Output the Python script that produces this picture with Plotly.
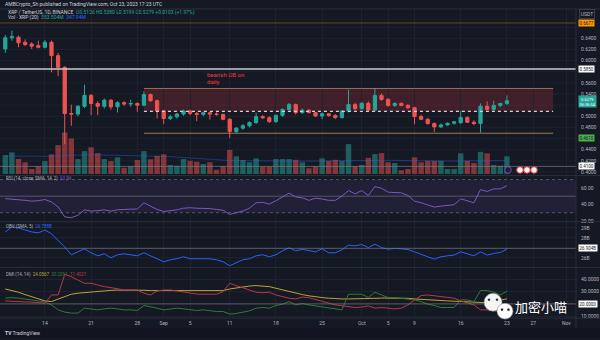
import plotly.graph_objects as go
import pandas as pd

# ---------------- data ----------------
dates = pd.date_range("2023-08-08", "2023-10-23", freq="D")

open_ = [0.621,0.641,0.642,0.633,0.630,0.627,0.624,0.633,0.609,0.588,
         0.505,0.504,0.518,0.5375,0.523,0.518,0.529,0.517,0.5245,0.522,
         0.523,0.520,0.539,0.528,0.5095,0.496,0.499,0.504,0.5095,0.505,
         0.5035,0.5065,0.504,0.5035,0.4946,0.4727,0.4786,0.483,0.4888,0.4994,
         0.4975,0.4905,0.5018,0.5125,0.521,0.5066,0.511,0.5066,0.5005,0.5045,
         0.5015,0.4977,0.5095,0.521,0.5137,0.5232,0.5113,0.5375,0.5304,0.5196,
         0.5232,0.5196,0.5155,0.4995,0.4946,0.487,0.481,0.4845,0.4875,0.4885,
         0.4977,0.4893,0.487,0.518,0.5125,0.5196,0.5232]
high = [0.646,0.654,0.645,0.638,0.633,0.636,0.637,0.636,0.614,0.590,
        0.521,0.520,0.557,0.540,0.527,0.532,0.531,0.527,0.527,0.530,
        0.525,0.545,0.541,0.530,0.512,0.503,0.506,0.512,0.512,0.508,
        0.508,0.508,0.507,0.504,0.497,0.481,0.486,0.491,0.5066,0.502,
        0.500,0.503,0.514,0.524,0.523,0.514,0.513,0.508,0.507,0.506,
        0.504,0.511,0.548,0.524,0.526,0.527,0.550,0.541,0.533,0.525,
        0.525,0.522,0.517,0.503,0.497,0.489,0.487,0.489,0.491,0.510,
        0.500,0.493,0.5232,0.5268,0.528,0.524,0.5375]
low = [0.614,0.636,0.624,0.626,0.621,0.622,0.622,0.579,0.572,0.450,
       0.483,0.500,0.515,0.502,0.502,0.514,0.512,0.507,0.519,0.517,
       0.508,0.518,0.526,0.496,0.486,0.493,0.496,0.501,0.502,0.4916,
       0.500,0.494,0.501,0.493,0.461,0.470,0.476,0.480,0.486,0.495,
       0.488,0.488,0.499,0.510,0.503,0.504,0.505,0.499,0.495,0.499,
       0.495,0.496,0.507,0.511,0.512,0.509,0.509,0.528,0.517,0.517,
       0.518,0.513,0.4857,0.493,0.485,0.472,0.479,0.483,0.485,0.486,
       0.488,0.484,0.4705,0.511,0.510,0.516,0.520]
close = [0.641,0.643,0.632,0.629,0.626,0.624,0.633,0.609,0.588,0.505,
         0.504,0.518,0.5375,0.523,0.518,0.529,0.517,0.5245,0.522,0.523,
         0.520,0.539,0.528,0.5095,0.496,0.499,0.504,0.5095,0.505,0.5035,
         0.5065,0.504,0.5035,0.4946,0.4727,0.4786,0.483,0.4888,0.4994,0.4975,
         0.4905,0.5018,0.5125,0.521,0.5066,0.511,0.5066,0.5005,0.5045,0.5015,
         0.4977,0.5095,0.521,0.5137,0.5232,0.5113,0.5375,0.5304,0.5196,0.5232,
         0.5196,0.5155,0.4995,0.4946,0.487,0.481,0.4845,0.4875,0.490,0.4977,
         0.4893,0.487,0.518,0.5125,0.5196,0.5232,0.5279]

volume_m = [760,870,600,470,200,310,520,790,1160,1670,
            1430,600,920,1070,840,600,520,670,250,310,
            560,920,590,730,790,360,330,600,530,490,
            400,470,170,310,970,710,560,470,630,290,
            290,600,600,600,570,470,230,310,630,530,
            570,530,1200,310,360,650,800,840,470,440,
            150,200,670,470,530,530,530,200,200,830,
            530,440,890,830,360,330,710]
vol_sma_m = [720,720,715,710,705,700,700,700,710,740,
             760,760,770,770,770,765,760,760,750,740,
             730,730,730,725,720,700,680,660,640,620,
             600,580,560,545,540,540,535,530,530,525,
             520,520,520,520,520,520,515,515,520,525,
             530,535,540,540,540,545,550,555,555,550,
             540,535,535,535,535,535,530,525,520,525,
             525,525,530,535,535,535,540]

rsi = [47,46.5,46,45,44,44.5,46,43,37,25,
       24,27,33.5,32,32.5,33.5,32,33.5,34,34.5,
       34.5,42,38,34,31.5,32.5,33.5,35.5,36,35.5,
       35.5,35,34,33,28,30,32,35.5,42,42.5,
       40.5,44.5,48.8,53.6,49,48,45,47.6,46.5,45,
       45,50,56.8,52.8,56.8,50.8,61.6,59.6,54.8,54.8,
       54,50.8,44,42,39.6,36.8,38,38.8,39.6,46.8,
       44.8,42,58,55.6,58.8,58.8,62.8]

obv_b = [28.6,29.1,29.0,28.8,28.6,28.5,28.8,28.4,27.8,27.1,
         26.3,26.6,26.9,26.5,26.2,26.4,26.0,26.3,26.4,26.3,
         26.2,26.5,26.2,25.9,25.6,25.8,25.9,26.1,25.9,25.9,
         25.9,25.9,25.8,25.6,25.2,25.5,25.8,25.9,26.2,26.3,
         26.1,26.3,26.7,27.0,26.7,26.85,26.75,26.6,26.9,26.5,
         26.5,26.8,27.27,27.2,27.33,27.03,27.37,27.03,26.87,26.95,
         26.9,26.83,26.6,26.33,26.1,25.87,26.1,26.2,26.27,26.6,
         26.37,26.2,26.6,26.27,26.43,26.53,26.87]

adx = [32,30.8,29.4,27.5,25.9,24.2,22.4,21.9,24,25.9,
       27.8,28.6,29.1,29.9,30.3,30.7,30.9,31.1,31.2,31.2,
       31.2,31,30.7,30.7,30.7,30.7,30.7,30.7,30.7,30.7,
       30.7,30.7,30.7,30.7,32,33,33.9,34.4,34.7,34.4,
       33.9,32.6,31.2,29.9,28.6,27.5,26.5,25.5,25.1,24.6,
       24.2,24.0,24.0,24.0,24.0,24.3,24.5,24.7,24.8,24.9,
       25.0,24.5,24.0,23.6,23.2,23.0,22.7,22.4,22.2,21.9,
       21.5,21.0,20.6,20.9,21.9,23.0,24.06]
plus_di = [24.6,25.1,24.6,24,23.2,22.4,21.4,19.2,15.2,13.4,
           12.6,12.6,16.6,15.8,15.2,16,16.6,16,15.2,15.2,
           14.7,18.7,17.9,16.6,15.2,15.8,16.6,16,15.2,14.7,
           15.2,14.4,13.9,13.9,11.8,12.3,13.1,14.4,16.6,17.1,
           16.6,18.7,19.8,21.9,19.2,20.3,19.2,18.3,17.5,16.6,
           15.8,15.2,27.8,27.8,27.8,25.1,29.4,27.2,25.1,25.1,
           24.6,24,23.2,21.9,19.8,18.7,17.1,17.1,17.1,23.2,
           23.2,21.9,30.7,30.7,29.4,27.2,30.2]
minus_di = [22.4,22,21.9,21.6,21.4,21,20.6,27.2,27.2,43.8,
            41.9,39.2,36.6,36.6,35.2,33.9,33.1,32,31.2,31.2,
            31.2,28.6,27.2,30.4,31.2,31.2,30.4,29.4,28.6,28,
            27.8,27.8,27.8,29.9,36.6,34.7,33.1,31.2,29.4,29,
            29.4,27.2,25.9,24.6,24,25.5,25,23.6,22.4,21,
            19.2,18.5,17.9,17.1,17.4,18.4,16.6,17.1,16.6,16,
            16.6,19.2,23.2,26.7,27.2,26.7,25.9,25.1,24.6,22.4,
            20.6,19.2,15.2,15.2,14.4,13.9,11.4]

price_ticks = [0.40,0.42,0.44,0.48,0.50,0.54,0.56,0.60,0.62,0.64]
price_tick_text = ["0.4000","0.4200","0.4400","0.4800","0.5000",
                   "0.5400","0.5600","0.6000","0.6200","0.6400"]
grid_levels = [0.40,0.42,0.44,0.46,0.48,0.50,0.52,0.54,0.56,0.58,0.60,0.62,0.64,0.66]
time_tick_dates = ["2023-08-14","2023-08-21","2023-08-28","2023-09-01","2023-09-05",
                   "2023-09-11","2023-09-18","2023-09-25","2023-10-01","2023-10-05",
                   "2023-10-09","2023-10-16","2023-10-23","2023-10-27","2023-11-01"]
time_tick_text = ["14","21","28","Sep","5","11","18","25","Oct","5","9","16","23","27","Nov"]
rsi_ticks, rsi_tick_text = [20,40,60], ["20.00","40.00","60.00"]
obv_ticks, obv_tick_text = [25,26,28,29], ["25B","26B","28B","29B"]
dmi_ticks, dmi_tick_text = [10,30,40], ["10.0000","30.0000","40.0000"]

level_top = 0.6677
level_res = 0.585
ob_top, ob_bottom = 0.55, 0.509
level_sup = 0.4696
level_low_label = 0.461
level_floor = 0.41

# ---------------- styling ----------------
W, H = 600, 340
BG = "#151924"
GRID = "#1e222d"
TXT = "#b2b5be"
SEP = "#2a2e39"
UP, DN = "#26a69a", "#ef5350"
FONT = "Roboto"
XR = 576 / W


def px(x):
    return x / W


def py(y):
    return 1 - y / H


fig = go.Figure()

vol_colors = ["rgba(38,166,154,0.5)" if c >= o else "rgba(239,83,80,0.5)" for o, c in zip(open_, close)]
fig.add_trace(go.Bar(x=dates, y=volume_m, marker_color=vol_colors, marker_line_width=0,
                     width=0.82 * 86400000, xaxis="x", yaxis="y"))
fig.add_trace(go.Scatter(x=dates, y=vol_sma_m, mode="lines", line=dict(color="rgba(41,98,255,0.4)", width=1),
                         xaxis="x", yaxis="y"))
fig.add_trace(go.Candlestick(x=dates, open=open_, high=high, low=low, close=close,
                             increasing=dict(line=dict(color=UP, width=1), fillcolor=UP),
                             decreasing=dict(line=dict(color=DN, width=1), fillcolor=DN),
                             xaxis="x", yaxis="y5"))
fig.add_trace(go.Scatter(x=dates, y=rsi, mode="lines", line=dict(color="#7e57c2", width=1), xaxis="x2", yaxis="y2"))
fig.add_trace(go.Scatter(x=dates, y=obv_b, mode="lines", line=dict(color="#2962ff", width=1), xaxis="x3", yaxis="y3"))
fig.add_trace(go.Scatter(x=dates, y=adx, mode="lines", line=dict(color="#bfa23a", width=1), xaxis="x4", yaxis="y4"))
fig.add_trace(go.Scatter(x=dates, y=plus_di, mode="lines", line=dict(color="#2e7d32", width=1), xaxis="x4", yaxis="y4"))
fig.add_trace(go.Scatter(x=dates, y=minus_di, mode="lines", line=dict(color="#b8384a", width=1), xaxis="x4", yaxis="y4"))

x_range = ["2023-08-07 04:43", "2023-11-02 11:10"]
xcommon = dict(range=x_range, type="date", showgrid=True, gridcolor=GRID, gridwidth=1,
               tickvals=time_tick_dates, ticktext=time_tick_text, showline=False, zeroline=False,
               domain=[0, XR], rangeslider=dict(visible=False), ticks="",
               tickfont=dict(size=5, color=TXT, family=FONT))


def pane(y_top, y_bot):
    return [py(y_bot), py(y_top)]


yfont = dict(size=5, color=TXT, family=FONT)
fig.update_layout(
    width=W, height=H, margin=dict(l=0, r=0, t=0, b=0),
    paper_bgcolor=BG, plot_bgcolor=BG, showlegend=False, hovermode=False,
    xaxis=dict(xcommon, anchor="y", showticklabels=False),
    xaxis2=dict(xcommon, anchor="y2", matches="x", showticklabels=False),
    xaxis3=dict(xcommon, anchor="y3", matches="x", showticklabels=False),
    xaxis4=dict(xcommon, anchor="y4", matches="x", showticklabels=True, ticklabelstandoff=1),
    yaxis=dict(domain=pane(9, 176), range=[-40, 6640], showgrid=False, showticklabels=False, zeroline=False),
    yaxis5=dict(domain=pane(9, 176), overlaying="y", anchor="x", side="right", range=[0.3946, 0.6929],
                tickvals=price_ticks, ticktext=price_tick_text, tickfont=yfont, showgrid=False,
                zeroline=False, ticks="", ticklabelstandoff=4),
    yaxis2=dict(domain=pane(177, 223), anchor="x2", side="right", range=[19.2, 74.4],
                tickvals=rsi_ticks, ticktext=rsi_tick_text, tickfont=yfont, showgrid=False,
                zeroline=False, ticks="", ticklabelstandoff=4),
    yaxis3=dict(domain=pane(223, 269), anchor="x3", side="right", range=[25.03, 29.63],
                tickvals=obv_ticks, ticktext=obv_tick_text, tickfont=yfont, showgrid=True,
                gridcolor=GRID, zeroline=False, ticks="", ticklabelstandoff=4),
    yaxis4=dict(domain=pane(269, 320), anchor="x4", side="right", range=[8.56, 49.36],
                tickvals=dmi_ticks, ticktext=dmi_tick_text, tickfont=yfont, showgrid=True,
                gridcolor=GRID, zeroline=False, ticks="", ticklabelstandoff=4),
)

shapes = []
# price grid lines
for lv in grid_levels:
    shapes.append(dict(type="line", xref="paper", yref="y5", x0=0, x1=XR, y0=lv, y1=lv,
                       line=dict(color=GRID, width=1), layer="below"))
# RSI band
shapes.append(dict(type="rect", xref="paper", yref="y2", x0=0, x1=XR, y0=30, y1=70,
                   fillcolor="rgba(126,87,194,0.12)", line_width=0, layer="below"))
for lv, dash in ((70, "dot"), (30, "dot"), (50, "solid")):
    shapes.append(dict(type="line", xref="paper", yref="y2", x0=0, x1=XR, y0=lv, y1=lv,
                       line=dict(color="rgba(120,123,134,0.6)", width=1, dash=dash)))
# OBV / DMI horizontal lines
shapes.append(dict(type="line", xref="paper", yref="y3", x0=0, x1=XR, y0=26.95, y1=26.95,
                   line=dict(color="rgba(120,123,134,0.7)", width=1)))
shapes.append(dict(type="line", xref="paper", yref="y4", x0=0, x1=XR, y0=20, y1=20,
                   line=dict(color="rgba(120,123,134,0.7)", width=1)))
# Bearish OB box
shapes.append(dict(type="rect", xref="x", yref="y5", x0="2023-08-29", x1="2023-10-30", y0=ob_bottom, y1=ob_top,
                   fillcolor="rgba(242,54,69,0.2)", line_width=0, layer="below"))
shapes.append(dict(type="line", xref="x", yref="y5", x0="2023-08-29", x1="2023-10-30", y0=ob_top, y1=ob_top,
                   line=dict(color="rgba(200,150,100,0.7)", width=1)))
shapes.append(dict(type="line", xref="x", yref="y5", x0="2023-08-29", x1="2023-10-30", y0=ob_bottom, y1=ob_bottom,
                   line=dict(color="#d1d4dc", width=1.3, dash="dot")))
shapes.append(dict(type="line", xref="x", yref="y5", x0="2023-08-29", x1="2023-10-30", y0=level_sup, y1=level_sup,
                   line=dict(color="rgba(190,150,90,0.8)", width=1)))
# full-width levels
shapes.append(dict(type="line", xref="paper", yref="y5", x0=0, x1=XR, y0=level_res, y1=level_res,
                   line=dict(color="#c8cad0", width=1.5)))
shapes.append(dict(type="line", xref="paper", yref="y5", x0=0, x1=XR, y0=level_top, y1=level_top,
                   line=dict(color="rgba(255,152,0,0.35)", width=1)))
shapes.append(dict(type="line", xref="paper", yref="y5", x0=0, x1=XR, y0=level_floor, y1=level_floor,
                   line=dict(color="rgba(120,123,134,0.7)", width=1)))
# pane separators
for yy in (9, 176.5, 223, 269, 320):
    shapes.append(dict(type="line", xref="paper", yref="paper", x0=0, x1=1, y0=py(yy), y1=py(yy),
                       line=dict(color=SEP, width=1)))
shapes.append(dict(type="line", xref="paper", yref="paper", x0=XR, x1=XR, y0=py(330), y1=py(9),
                   line=dict(color=SEP, width=1)))
shapes.append(dict(type="rect", xref="paper", yref="paper", x0=0, x1=1, y0=0, y1=py(330),
                   fillcolor="#121520", line_width=0, layer="below"))


def circ(cx, cy, r, fill, line, lw=0.8):
    return dict(type="circle", xref="paper", yref="paper", x0=px(cx - r), x1=px(cx + r),
                y0=py(cy + r), y1=py(cy - r), fillcolor=fill, line=dict(color=line, width=lw))


# event markers
shapes.append(circ(508, 171, 3.3, "#231c3d", "#7e57c2"))
for cx in (520, 527, 534):
    shapes.append(circ(cx, 171, 3.3, "#f0f0f0", "#e53935", 1))
# wechat-like icon
shapes.append(circ(493, 304, 9, "#f4f4f4", "#888888", 0.6))
shapes.append(circ(505, 313, 8, "#ffffff", "#888888", 0.6))
for cx, cy in ((489, 301.5), (497, 301.5), (502, 311.5), (508.5, 311.5)):
    shapes.append(circ(cx, cy, 1.1, "#222222", "#222222", 0.3))
fig.update_layout(shapes=shapes)

ann = []


def text(t, x, y, size=5, color=TXT, xanchor="left", yanchor="middle", family=FONT):
    ann.append(dict(text=t, x=px(x), y=py(y), xref="paper", yref="paper", showarrow=False,
                    xanchor=xanchor, yanchor=yanchor, font=dict(size=size, color=color, family=family)))


def box(t, yval, yref, bg, fg, x=578, size=4.5):
    ann.append(dict(text=t, x=px(x), y=yval, xref="paper", yref=yref, showarrow=False,
                    xanchor="left", yanchor="middle", bgcolor=bg, borderpad=0.5,
                    font=dict(size=size, color=fg, family=FONT)))


text("AMBCrypto_Sh published on TradingView.com, Oct 23, 2023 17:23 UTC", 3, 4.5, color="#d1d4dc")
g = UP
text(f"XRP / TetherUS, 1D, BINANCE  <span style='color:{g}'>O0.5126 H0.5380 L0.5199 C0.5279 +0.0103 (+1.97%)</span>",
     6, 12.5, color="#d1d4dc")
text("Vol · XRP (20)  <span style='color:#26a69a'>353.504M</span>  <span style='color:#2962ff'>347.94M</span>",
     6, 18, color="#d1d4dc")
text("bearish OB on", 205, 74.5, size=6, color="#f23645")
text("daily", 205, 81.5, size=6, color="#f23645")
text("RSI (14, close, SMA, 14, 2)  <span style='color:#7e57c2'>63.84</span>", 4, 180, size=4.5)
text("OBV (SMA, 5)  <span style='color:#2962ff'>26.788B</span>", 4, 227.5, size=4.5)
text("DMI (14, 14)  <span style='color:#bfa23a'>24.0567</span>  <span style='color:#2e7d32'>30.2091</span>  "
     "<span style='color:#b8384a'>11.4021</span>", 4, 276, size=4.5)
text("<b>TV</b> TradingView", 3, 334.5, size=5, color="#d1d4dc")
text("加密小喵", 513, 308, size=13, color="#ffffff", family="Noto Sans CJK SC")

# price-axis boxes
ann.append(dict(text="USDT", x=px(587), y=py(14), xref="paper", yref="paper", showarrow=False,
                xanchor="center", yanchor="middle", bordercolor="#434651", borderwidth=0.8, borderpad=1,
                font=dict(size=5, color=TXT, family=FONT)))
box("0.6677", level_top, "y5", "#ff9800", "#131722")
box("0.5850", level_res, "y5", "#ffffff", "#131722")
box("0.5279<br>06:36:54", 0.5272, "y5", "#26a69a", "#ffffff", size=4)
box("0.4610", level_low_label, "y5", "#4caf50", "#131722")
box("0.4100", level_floor, "y5", "#ffffff", "#131722")
box("26.904B", 26.95, "y3", "#ffffff", "#131722")
box("20.0000", 20, "y4", "#ffffff", "#131722")
fig.update_layout(annotations=ann)

fig.write_html("out.html")
